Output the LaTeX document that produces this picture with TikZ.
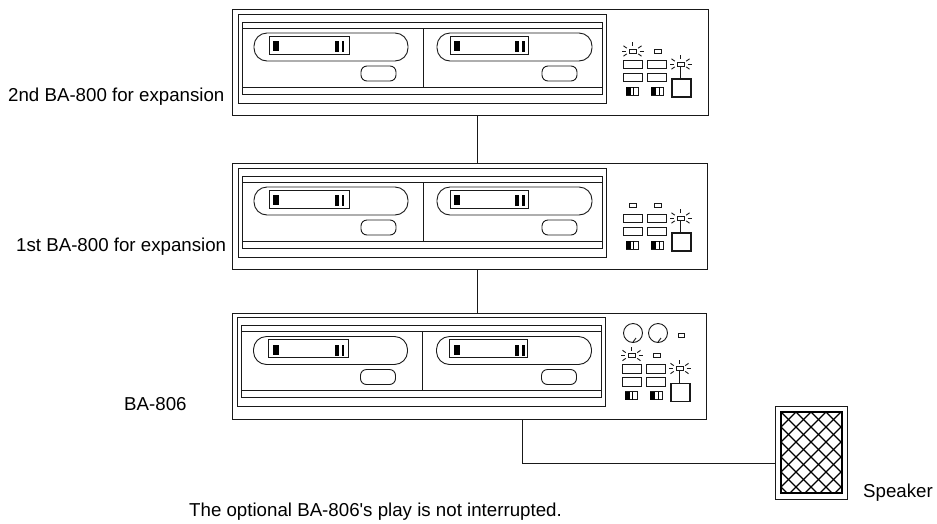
\documentclass[tikz,border=0pt]{standalone}
\usepackage{fontspec}
\setmainfont{Liberation Sans}
\newfontfamily\plainf{Liberation Sans}
\usetikzlibrary{calc}
\tikzset{ln/.style={line width=0.9pt,draw=black!90},
  lab/.style={anchor=base west,inner sep=0pt,font=\plainf\fontsize{18.7}{22}\selectfont}}
\newcommand{\ledrays}[2]{%
  \foreach \a in {0,35,90,145,180,215,325}{
    \draw[ln] ($(#1,#2)+({7*cos(\a)},{-5*sin(\a)})$) -- ($(#1,#2)+({11*cos(\a)},{-9*sin(\a)})$);}
}
\newcommand{\deck}[4]{% y offset, name, outer width, x shift of the inner part
  \node[ln,draw,minimum width=#3pt,minimum height=106pt,inner sep=0pt,anchor=north west,yshift=-#1pt] (#2) at (232,9) {};
  \begin{scope}[yshift=-#1pt,xshift=#4pt]
  \draw[ln] (238,14) rectangle (606,103);
  \draw[ln] (242,22) rectangle (602,94);
  \draw[ln] (242,28) -- (602,28);
  \draw[ln] (242,87) -- (602,87);
  \draw[ln] (423,28) -- (423,87);
  \draw[ln,rounded corners=13pt] (254,33) rectangle (408,61);
  \draw[ln,rounded corners=13pt] (437,33) rectangle (592,61);
  \draw[ln] (269,36) rectangle (349,54);
  \draw[ln] (450,36) rectangle (528,54);
  \fill (273,41) rectangle (279,51);
  \fill (335,41) rectangle (339,52);
  \fill (342,41) rectangle (344,52);
  \fill (454,41) rectangle (460,51);
  \fill (515,41) rectangle (519,52);
  \fill (522,41) rectangle (525,52);
  \draw[ln,rounded corners=6pt] (361,66) rectangle (396,81);
  \draw[ln,rounded corners=6pt] (542,66) rectangle (577,81);
  \end{scope}
}
\newcommand{\controls}[2]{% y offset, x shift
  \begin{scope}[yshift=-#1pt,xshift=#2pt]
  \draw[ln] (629,49) rectangle (636,53);
  \draw[ln] (654,49) rectangle (661,53);
  \draw[ln] (623,60) rectangle (642,68.5);
  \draw[ln] (623,73) rectangle (642,81.5);
  \draw[ln] (647,60) rectangle (666,68.5);
  \draw[ln] (647,73) rectangle (666,81.5);
  \draw[ln] (626,87) rectangle (638,95);
  \fill (626,87) rectangle (631,95);
  \fill (633,87) rectangle (634,95);
  \draw[ln] (651,87) rectangle (663,95);
  \fill (651,87) rectangle (656,95);
  \fill (659,87) rectangle (660,95);
  \draw[ln,line width=1.5pt] (672,79) rectangle (691,97);
  \draw[ln] (677,62) rectangle (684,66);
  \draw[ln] (680.5,66) -- (680.5,79);
  \ledrays{680.5}{64}
  \end{scope}
}
\begin{document}
\begin{tikzpicture}[x=1pt,y=-1pt]
\useasboundingbox (0,0) rectangle (937,523);
\deck{0}{uA}{476}{0}
\controls{0}{0}
\begin{scope}\ledrays{632.5}{51}\end{scope}
\deck{154}{uB}{475}{0}
\controls{154}{0}
\deck{303.5}{uC}{474}{-0.5}
\controls{304.5}{-1}
\begin{scope}[yshift=-304.5pt,xshift=-1pt]\ledrays{632.5}{51}\end{scope}
\draw[ln] (633,333) circle (9.5);
\draw[ln] (658,333) circle (9.5);
\draw[ln] (633,342) -- (636,338);
\draw[ln] (658,342) -- (661,338);
\draw[ln] (678,333) rectangle (684.5,337);
\draw[ln] ([xshift=6.5pt]uA.south) -- ([xshift=7pt]uB.north);
\draw[ln] ([xshift=7pt]uB.south) -- ([xshift=7.5pt]uC.north);
\node[ln,draw,minimum width=72pt,minimum height=93pt,inner sep=0pt,anchor=north west] (spk) at (775,406) {};
\begin{scope}
\clip (781,412) rectangle (842,493);
\foreach \k in {-10,...,14}{
  \draw[line width=1.1pt] (781+\k*15,412) -- ++(84,84);
  \draw[line width=1.1pt] (781+\k*15,412) -- ++(-84,84);
}
\end{scope}
\draw[line width=1.6pt] (781,412) rectangle (842,493);
\draw[ln] ([xshift=53pt]uC.south) |- ([yshift=-10.5pt]spk.west);
\node[lab] (t1) at (8,101) {2nd BA-800 for expansion};
\node[lab] (t2) at (16,251) {1st BA-800 for expansion};
\node[lab] (t3) at (124,410) {BA-806};
\node[lab] (t4) at (863,497) {Speaker};
\node[lab] (t5) at (189,516) {The optional BA-806's play is not interrupted.};
\end{tikzpicture}
\end{document}
